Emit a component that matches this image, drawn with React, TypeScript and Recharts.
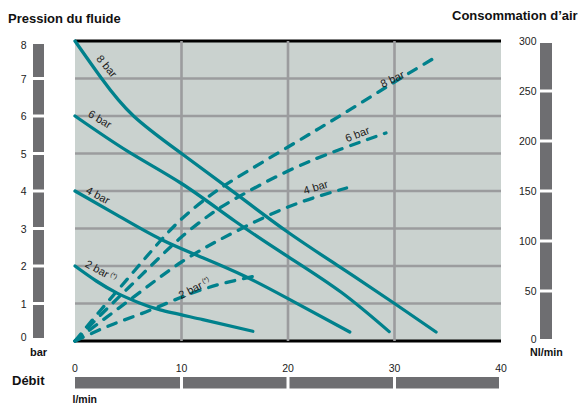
import { LineChart, Line, XAxis, YAxis, CartesianGrid, ReferenceDot } from 'recharts'

const TEAL = '#00818c'
const GRID = '#9b9c9e'
const BAR = '#6e6e71'
const BG = '#cad2cf'
const FONT = '"Liberation Sans", Arial, Helvetica, sans-serif'

const FLOW_TICKS = [0, 10, 20, 30, 40]
const PRESSURE_TICKS = [0, 1, 2, 3, 4, 5, 6, 7, 8]
const AIR_TICKS = [0, 50, 100, 150, 200, 250, 300]

// pression du fluide (bar) selon le débit (l/min) — [débit, pression]
const fluid8: [number, number][] = [[0, 8], [2.5, 7], [5.5, 6.0], [10, 5], [15, 3.95], [20, 2.9], [25, 1.95], [30, 1.0], [33.9, 0.24]]
const fluid6: [number, number][] = [[0, 6], [5, 5.05], [10, 4.2], [15, 3.2], [20, 2.25], [25, 1.3], [29.5, 0.25]]
const fluid4: [number, number][] = [[0, 4], [4, 3.35], [8, 2.72], [12, 2.22], [16, 1.72], [20, 1.13], [25.8, 0.24]]
const fluid2: [number, number][] = [[0, 2], [2, 1.6], [4, 1.27], [6, 1.02], [8, 0.83], [12, 0.57], [16.7, 0.26]]

// consommation d'air (Nl/min) selon le débit — [débit, air]
const air8: [number, number][] = [[0, 0], [2.5, 32], [5, 63], [7.5, 94], [10, 122], [12.5, 144], [15, 162], [20, 194], [25, 226], [30, 259], [33.9, 284]]
const air6: [number, number][] = [[0, 0], [2.5, 27], [5, 53], [7.5, 79], [10, 104], [12.5, 125], [15, 142], [20, 170], [25, 192], [29.2, 208]]
const air4: [number, number][] = [[0, 0], [2.5, 20], [5, 40], [7.5, 60], [10, 79], [12.5, 95], [15, 109], [20, 134], [25.5, 153]]
const air2: [number, number][] = [[0, 0], [3.4, 16], [7.1, 31], [11.8, 51], [16.9, 65]]

const toPoints = (arr: [number, number][]) => arr.map(([x, y]) => ({ x, y }))

// étiquettes des courbes
const fluidLabels = [
  { text: '8 bar', x: 3.0, y: 7.33, angle: 50 },
  { text: '6 bar', x: 2.35, y: 5.92, angle: 31 },
  { text: '4 bar', x: 2.16, y: 3.89, angle: 28 },
  { text: '2 bar', x: 2.45, y: 1.87, angle: 29, star: true },
]
const airLabels = [
  { text: '8 bar', x: 29.8, y: 262, angle: -26 },
  { text: '6 bar', x: 26.5, y: 207, angle: -21 },
  { text: '4 bar', x: 22.6, y: 154, angle: -17 },
  { text: '2 bar', x: 11.2, y: 53, angle: -27, star: true },
]

function LeftTick(props: any) {
  const { x, y, payload, height, visibleTicksCount } = props
  const step = height && visibleTicksCount > 1 ? height / (visibleTicksCount - 1) : 37.5
  const v = payload.value
  const max = PRESSURE_TICKS[PRESSURE_TICKS.length - 1]
  const top = v === max - 1 ? 3 : 1.5
  const bottom = v === 0 ? 3 : 1.5
  // les valeurs extrêmes sont rentrées vers l'intérieur
  const shift = v === max ? 4 : v === 0 ? -4 : 0
  return (
    <g>
      <text x={x - 48.5} y={y + shift} dy={4} textAnchor="end" fontSize={10.5} fill="#222">{v}</text>
      {v < max && <rect x={x - 42} y={y - step + top} width={11} height={step - top - bottom} fill={BAR} />}
    </g>
  )
}

function RightTick(props: any) {
  const { x, y, payload, height, visibleTicksCount } = props
  const step = height && visibleTicksCount > 1 ? height / (visibleTicksCount - 1) : 50
  const v = payload.value
  const max = AIR_TICKS[AIR_TICKS.length - 1]
  const prevTop = AIR_TICKS[AIR_TICKS.length - 2]
  const top = v === prevTop ? 2 : 1.5
  const bottom = v === 0 ? 2 : 1.5
  const shift = v === 0 ? -2 : 0
  return (
    <g>
      <text x={x + 35.5} y={y + shift} dy={3.5} textAnchor="end" fontSize={10.5} fill="#222">{v}</text>
      {v < max && <rect x={x + 39} y={y - step + top} width={12} height={step - top - bottom} fill={BAR} />}
    </g>
  )
}

function FlowTick(props: any) {
  const { x, y, payload, width, visibleTicksCount } = props
  const step = width && visibleTicksCount > 1 ? width / (visibleTicksCount - 1) : 106.5
  const v = payload.value
  const max = FLOW_TICKS[FLOW_TICKS.length - 1]
  const left = v === 0 ? 0 : 1.5
  const right = v === FLOW_TICKS[FLOW_TICKS.length - 2] ? 2 : 1.5
  return (
    <g>
      <text x={x} y={y + 31} textAnchor="middle" fontSize={10.5} fill="#222">{v}</text>
      {v < max && <rect x={x + left} y={y + 36} width={step - left - right} height={11.5} fill={BAR} />}
    </g>
  )
}

function makeLabel(text: string, angle: number, star?: boolean) {
  return (p: any) => (
    <text
      x={p.cx}
      y={p.cy}
      transform={`rotate(${angle}, ${p.cx}, ${p.cy})`}
      textAnchor="middle"
      dominantBaseline="central"
      fontSize={11}
      fill="#1c1c1c"
      fontFamily={FONT}
    >
      {text}
      {star && <tspan fontSize={6.5} dx={2} dy={-3}>(*)</tspan>}
    </text>
  )
}

function gridLine(p: any, count: number) {
  const edge = p.index === 0 || p.index === count - 1
  return (
    <line
      key={p.key}
      x1={p.x1}
      y1={p.y1}
      x2={p.x2}
      y2={p.y2}
      stroke={edge ? '#000' : GRID}
      strokeWidth={edge ? 3 : 2.6}
    />
  )
}

function vGridLine(p: any) {
  const edge = p.index === 0 || p.index === FLOW_TICKS.length - 1
  if (edge) return <g key={p.key} />
  return <line key={p.key} x1={p.x1} y1={p.y1} x2={p.x2} y2={p.y2} stroke={GRID} strokeWidth={2.6} />
}

const titleStyle: React.CSSProperties = {
  position: 'absolute',
  fontFamily: FONT,
  fontWeight: 'bold',
  color: '#111',
  whiteSpace: 'nowrap',
  lineHeight: 1,
}

export default function App() {
  const fluidSeries = [fluid8, fluid6, fluid4, fluid2]
  const airSeries = [air8, air6, air4, air2]

  return (
    <div style={{ position: 'absolute', left: 0, top: 0, width: 582, height: 406, background: '#fff', fontFamily: FONT }}>
      <LineChart width={582} height={406} margin={{ top: 41, right: 0, bottom: 0, left: 0 }}>
        <CartesianGrid
          yAxisId="p"
          fill={BG}
          horizontal={(p: any) => gridLine(p, PRESSURE_TICKS.length)}
          vertical={vGridLine}
        />
        <XAxis
          dataKey="x"
          type="number"
          domain={[0, 40]}
          ticks={FLOW_TICKS}
          interval={0}
          height={65}
          axisLine={false}
          tickLine={false}
          tickSize={0}
          tickMargin={0}
          tick={<FlowTick />}
        />
        <YAxis
          yAxisId="p"
          type="number"
          domain={[0, 8]}
          ticks={PRESSURE_TICKS}
          interval={0}
          width={75}
          axisLine={false}
          tickLine={false}
          tickSize={0}
          tickMargin={0}
          tick={<LeftTick />}
        />
        <YAxis
          yAxisId="a"
          orientation="right"
          type="number"
          domain={[0, 300]}
          ticks={AIR_TICKS}
          interval={0}
          width={81}
          axisLine={false}
          tickLine={false}
          tickSize={0}
          tickMargin={0}
          tick={<RightTick />}
        />
        {fluidSeries.map((s, i) => (
          <Line
            key={`f${i}`}
            yAxisId="p"
            data={toPoints(s)}
            dataKey="y"
            type="natural"
            stroke={TEAL}
            strokeWidth={3.3}
            strokeLinecap="round"
            dot={false}
            activeDot={false}
            isAnimationActive={false}
          />
        ))}
        {airSeries.map((s, i) => (
          <Line
            key={`a${i}`}
            yAxisId="a"
            data={toPoints(s)}
            dataKey="y"
            type="natural"
            stroke={TEAL}
            strokeWidth={3.3}
            strokeLinecap="round"
            strokeDasharray="9 9"
            dot={false}
            activeDot={false}
            isAnimationActive={false}
          />
        ))}
        {fluidLabels.map((l, i) => (
          <ReferenceDot key={`fl${i}`} yAxisId="p" x={l.x} y={l.y} r={0} shape={makeLabel(l.text, l.angle, l.star)} />
        ))}
        {airLabels.map((l, i) => (
          <ReferenceDot key={`al${i}`} yAxisId="a" x={l.x} y={l.y} r={0} shape={makeLabel(l.text, l.angle, l.star)} />
        ))}
      </LineChart>
      <div style={{ ...titleStyle, left: 8, top: 12, fontSize: 13 }}>Pression du fluide</div>
      <div style={{ ...titleStyle, left: 452, top: 9, fontSize: 13 }}>Consommation d’air</div>
      <div style={{ ...titleStyle, left: 30, top: 346.5, fontSize: 11 }}>bar</div>
      <div style={{ ...titleStyle, left: 530, top: 347, fontSize: 10.7 }}>Nl/min</div>
      <div style={{ ...titleStyle, left: 12, top: 374, fontSize: 13 }}>Débit</div>
      <div style={{ ...titleStyle, left: 72.5, top: 394, fontSize: 10.5 }}>l/min</div>
    </div>
  )
}
